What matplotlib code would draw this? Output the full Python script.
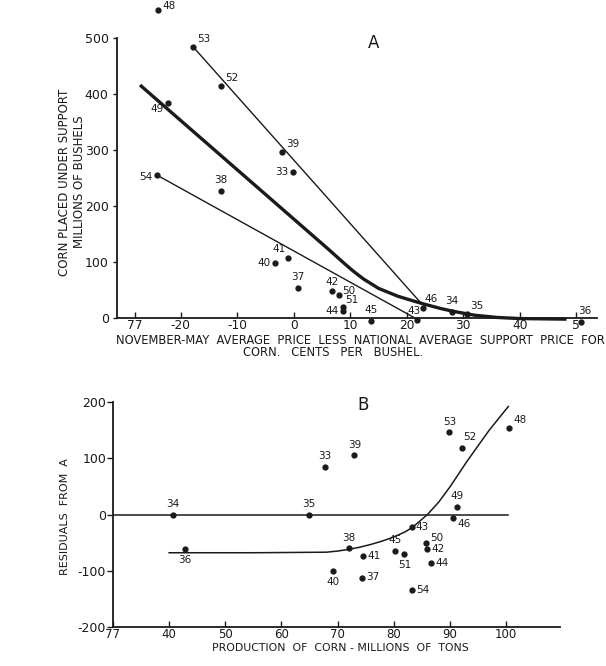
import matplotlib
matplotlib.use('Agg')
import matplotlib.pyplot as plt

# ---- panel A: corn under support vs price difference ----
a_years = ['48', '53', '52', '49', '39', '33', '54', '38', '41', '40', '37',
           '42', '50', '51', '44', '45', '43', '46', '34', '35', '36']
a_price = [-24.0, -17.8, -12.9, -22.3, -2.0, -0.2, -24.2, -12.9, -1.0, -3.3, 0.7,
           6.7, 8.0, 8.7, 8.7, 13.7, 21.8, 22.9, 28.0, 30.7, 50.8]
a_corn = [550, 484, 414, 384, 296, 260, 255, 227, 107, 98, 54,
          48, 41, 20, 13, -5, -3, 18, 11, 7, -7]

a_upper_x = [-17.8, 22.5]
a_upper_y = [484, 27]
a_lower_x = [-24.2, 21.8]
a_lower_y = [255, -2]
a_curve_x = [-27.0, 6.0, 9.0, 10.5, 12.3, 15.0, 18.4, 21.0, 23.0, 26.0,
             28.2, 32.0, 36.0, 40.0, 48.0]
a_curve_y = [414, 124, 97, 84, 70, 53, 39, 31, 25, 17,
             12, 5, 1, -1, -2]

a_xticks = [-28.1, -20, -10, 0, 10, 20, 30, 40, 50]
a_xlabels = ['77', '-20', '-10', '0', '10', '20', '30', '40', '5']
a_yticks = [0, 100, 200, 300, 400, 500]

# ---- panel B: residuals vs production ----
b_years = ['34', '35', '36', '33', '40', '38', '39', '41', '37', '45', '51',
           '43', '54', '50', '42', '44', '53', '52', '49', '46', '48']
b_prod = [40.7, 64.9, 42.8, 67.7, 69.1, 72.0, 73.0, 74.6, 74.3, 80.3, 81.9,
          83.3, 83.3, 85.8, 86.0, 86.7, 89.9, 92.2, 91.2, 90.6, 100.6]
b_resid = [0, 0, -62, 85, -101, -60, 105, -73, -112, -64, -71,
           -23, -135, -51, -62, -86, 146, 119, 14, -7, 154]

b_zero_x = [30, 100.4]
b_zero_y = [0, 0]
b_curve_x = [40, 55, 68, 70, 72, 74, 76, 78, 80, 82, 83.3, 84.6, 86, 88, 90, 93, 97, 100.4]
b_curve_y = [-68, -68, -67, -65, -62, -58, -53, -47, -40, -31, -23, -12, 0, 22, 49, 94, 150, 192]

b_xticks = [30, 40, 50, 60, 70, 80, 90, 100]
b_xlabels = ['77', '40', '50', '60', '70', '80', '90', '100']
b_yticks = [-200, -100, 0, 100, 200]
b_ylabels = ['-200', '-100', '0', '100', '200']

# label placement (offset points, ha, va)
a_offsets = {
    '48': (3, 3, 'left', 'center'), '53': (3, 2, 'left', 'bottom'),
    '52': (3, 2, 'left', 'bottom'), '49': (-3, -1, 'right', 'top'),
    '39': (3, 2, 'left', 'bottom'), '33': (-3, 0, 'right', 'center'),
    '54': (-3, -1, 'right', 'center'), '38': (0, 4, 'center', 'bottom'),
    '41': (-2, 3, 'right', 'bottom'), '40': (-3, 0, 'right', 'center'),
    '37': (0, 4, 'center', 'bottom'), '42': (0, 3, 'center', 'bottom'),
    '50': (2, 3, 'left', 'center'), '51': (2, 5, 'left', 'center'),
    '44': (-3, 0, 'right', 'center'), '45': (0, 4, 'center', 'bottom'),
    '43': (-2, 3, 'center', 'bottom'), '46': (1, 3, 'left', 'bottom'),
    '34': (0, 4, 'center', 'bottom'), '35': (2, 2, 'left', 'bottom'),
    '36': (-2, 4, 'left', 'bottom'),
}
b_offsets = {
    '34': (0, 4, 'center', 'bottom'), '35': (0, 4, 'center', 'bottom'),
    '36': (0, -4, 'center', 'top'), '33': (0, 4, 'center', 'bottom'),
    '40': (0, -4, 'center', 'top'), '38': (0, 4, 'center', 'bottom'),
    '39': (0, 4, 'center', 'bottom'), '41': (3, 0, 'left', 'center'),
    '37': (3, 0, 'left', 'center'), '45': (0, 4, 'center', 'bottom'),
    '51': (0, -4, 'center', 'top'), '43': (2, 0, 'left', 'center'),
    '54': (3, 0, 'left', 'center'), '50': (3, 4, 'left', 'center'),
    '42': (3, 0, 'left', 'center'), '44': (3, 0, 'left', 'center'),
    '53': (0, 4, 'center', 'bottom'), '52': (1, 4, 'left', 'bottom'),
    '49': (0, 4, 'center', 'bottom'), '46': (3, -4, 'left', 'center'),
    '48': (3, 2, 'left', 'bottom'),
}

INK = '#1a1a1a'
plt.rcParams['font.family'] = ['DejaVu Sans']

fig = plt.figure(figsize=(6.06, 6.66), dpi=100)
fig.patch.set_facecolor('white')


def style_axis(ax):
    for side in ('top', 'right'):
        ax.spines[side].set_visible(False)
    for side in ('left', 'bottom'):
        ax.spines[side].set_color(INK)
        ax.spines[side].set_linewidth(1.3)
    ax.set_facecolor('white')


def label_points(ax, names, xs, ys, offsets):
    for name, x, y in zip(names, xs, ys):
        dx, dy, ha, va = offsets[name]
        ax.annotate(name, (x, y), xytext=(dx, dy), textcoords='offset points',
                    ha=ha, va=va, fontsize=7.5, color=INK, annotation_clip=False)


# panel A
ax_a = fig.add_axes([117 / 606, 1 - 318 / 666, 480 / 606, 280 / 666])
style_axis(ax_a)
ax_a.set_xlim(-31.3, 53.7)
ax_a.set_ylim(0, 500)
ax_a.plot(a_curve_x, a_curve_y, color=INK, lw=2.4, clip_on=False,
          solid_joinstyle='round')
ax_a.plot(a_upper_x, a_upper_y, color=INK, lw=1.0, clip_on=False)
ax_a.plot(a_lower_x, a_lower_y, color=INK, lw=1.0, clip_on=False)
ax_a.plot(a_price, a_corn, 'o', color=INK, ms=3.5, clip_on=False)
label_points(ax_a, a_years, a_price, a_corn, a_offsets)
ax_a.set_xticks(a_xticks)
ax_a.set_xticklabels(a_xlabels)
ax_a.set_yticks(a_yticks)
ax_a.tick_params(axis='both', direction='in', length=4, width=1, colors=INK,
                 labelsize=9, pad=3)
ax_a.tick_params(axis='x', pad=1, labelsize=8.8)
ax_a.tick_params(axis='y', direction='out', length=3)
ax_a.text(14.1, 491, 'A', fontsize=12, color=INK, ha='center', va='center')

fig.text(72 / 606, 1 - 182 / 666, 'CORN PLACED UNDER SUPPORT\nMILLIONS OF BUSHELS',
         rotation=90, ha='center', va='center', multialignment='center',
         fontsize=8.5, color=INK, linespacing=1.2)
fig.text(360 / 606, 1 - 340 / 666,
         'NOVEMBER-MAY  AVERAGE  PRICE  LESS  NATIONAL  AVERAGE  SUPPORT  PRICE  FOR',
         ha='center', va='center', fontsize=8.3, color=INK)
fig.text(333 / 606, 1 - 353 / 666, 'CORN.   CENTS   PER   BUSHEL.',
         ha='center', va='center', fontsize=8.3, color=INK)

# panel B
ax_b = fig.add_axes([113 / 606, 1 - 627 / 666, 447 / 606, 225 / 666])
style_axis(ax_b)
ax_b.set_xlim(30, 109.6)
ax_b.set_ylim(-200, 200)
ax_b.plot(b_zero_x, b_zero_y, color=INK, lw=1.1)
ax_b.plot(b_curve_x, b_curve_y, color=INK, lw=1.1, clip_on=False,
          solid_joinstyle='round')
ax_b.plot(b_prod, b_resid, 'o', color=INK, ms=3.5, clip_on=False)
label_points(ax_b, b_years, b_prod, b_resid, b_offsets)
ax_b.set_xticks(b_xticks)
ax_b.set_xticklabels(b_xlabels)
ax_b.set_yticks(b_yticks)
ax_b.set_yticklabels(b_ylabels)
ax_b.tick_params(axis='both', direction='in', length=4, width=1, colors=INK,
                 labelsize=8.5, pad=1)
ax_b.tick_params(axis='y', direction='out', length=4, pad=1, labelsize=9)
ax_b.text(74.5, 194, 'B', fontsize=12, color=INK, ha='center', va='center')

fig.text(65 / 606, 1 - 517 / 666, 'RESIDUALS  FROM  A', rotation=90,
         ha='center', va='center', fontsize=8, color=INK)
fig.text(340 / 606, 1 - 648 / 666, 'PRODUCTION  OF  CORN - MILLIONS  OF  TONS',
         ha='center', va='center', fontsize=7.8, color=INK)

fig.savefig('out.png', dpi=100, facecolor='white')
